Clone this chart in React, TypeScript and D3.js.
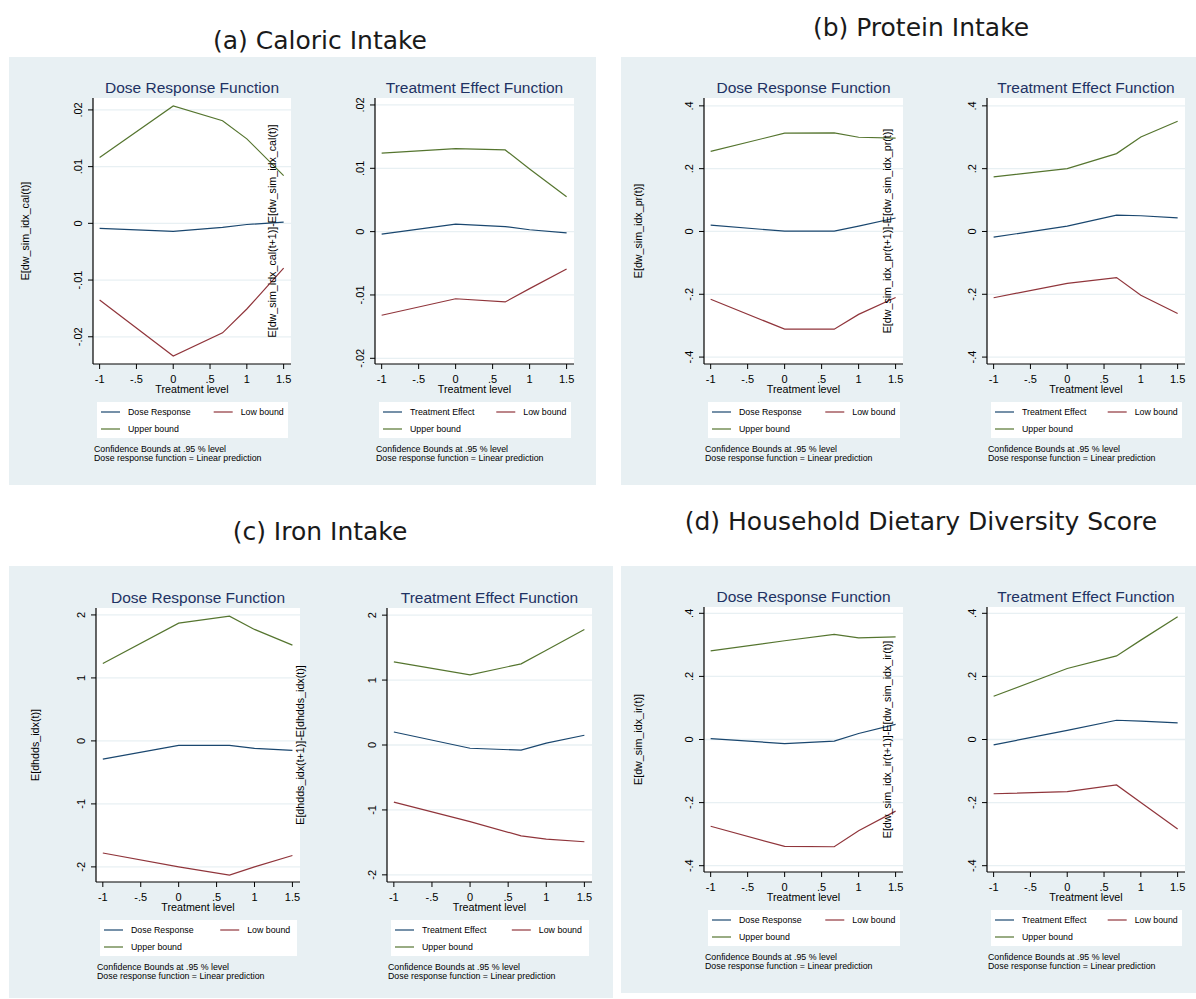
import * as d3 from 'd3';

// treatment levels where the curves are evaluated
const treatmentLevels = [-1, 0, 0.67, 1, 1.5];
const xTicks = [-1, -0.5, 0, 0.5, 1, 1.5];
const xTickLabels = ['-1', '-.5', '0', '.5', '1', '1.5'];

// (a) caloric intake
const calDose = [-0.0009, -0.0014, -0.0007, -0.0002, 0.0002];
const calDoseLow = [-0.0135, -0.0234, -0.0193, -0.0151, -0.0079];
const calDoseUp = [0.0116, 0.0207, 0.0181, 0.0149, 0.0084];
const calEffect = [-0.0004, 0.0012, 0.0008, 0.0003, -0.0002];
const calEffectLow = [-0.0132, -0.0106, -0.0111, -0.009, -0.0059];
const calEffectUp = [0.0124, 0.0131, 0.0129, 0.0099, 0.0055];
const calTicks = [-0.02, -0.01, 0, 0.01, 0.02];
const calTickLabels = ['-.02', '-.01', '0', '.01', '.02'];

// (b) protein intake
const prDose = [0.02, 0.001, 0.001, 0.017, 0.043];
const prDoseLow = [-0.216, -0.311, -0.311, -0.264, -0.21];
const prDoseUp = [0.255, 0.313, 0.314, 0.3, 0.297];
const prEffect = [-0.018, 0.017, 0.052, 0.05, 0.043];
const prEffectLow = [-0.211, -0.165, -0.147, -0.203, -0.261];
const prEffectUp = [0.174, 0.2, 0.248, 0.301, 0.351];

// (c) iron intake (dhdds index)
const hdDose = [-0.29, -0.07, -0.07, -0.12, -0.15];
const hdDoseLow = [-1.78, -2.0, -2.13, -2.0, -1.82];
const hdDoseUp = [1.23, 1.87, 1.98, 1.77, 1.52];
const hdEffect = [0.2, -0.05, -0.08, 0.03, 0.15];
const hdEffectLow = [-0.88, -1.18, -1.4, -1.45, -1.49];
const hdEffectUp = [1.28, 1.08, 1.25, 1.46, 1.78];
const hdTicks = [-2, -1, 0, 1, 2];
const hdTickLabels = ['-2', '-1', '0', '1', '2'];

// (d) household dietary diversity (ir index)
const irDose = [0.003, -0.013, -0.005, 0.019, 0.048];
const irDoseLow = [-0.275, -0.339, -0.34, -0.289, -0.227];
const irDoseUp = [0.281, 0.313, 0.333, 0.322, 0.325];
const irEffect = [-0.017, 0.029, 0.061, 0.058, 0.053];
const irEffectLow = [-0.172, -0.165, -0.144, -0.2, -0.284];
const irEffectUp = [0.137, 0.225, 0.265, 0.315, 0.389];

const pTicks = [-0.4, -0.2, 0, 0.2, 0.4];
const pTickLabels = ['-.4', '-.2', '0', '.2', '.4'];

const NAVY = '#1a476f';
const MAROON = '#90353b';
const GREEN = '#55752f';
const BG = '#e8f0f3';
const SANS = '"Liberation Sans", Arial, sans-serif';

interface Frame { x0: number; x1: number; y0: number; y1: number; titleX: number }

interface SubProps {
	f: Frame;
	yDomain: [number, number];
	yTicks: number[];
	yTickLabels: string[];
	yTitle: string;
	title: string;
	mainLabel: string;
	main: number[];
	low: number[];
	up: number[];
}

const SubPlot = ({ f, yDomain, yTicks, yTickLabels, yTitle, title, mainLabel, main, low, up }: SubProps) => {
	const x = d3.scaleLinear().domain([-1.09, 1.6]).range([f.x0, f.x1]);
	const y = d3.scaleLinear().domain(yDomain).range([f.y1, f.y0]);
	const line = d3
		.line<number>()
		.x((_, i) => x(treatmentLevels[i]))
		.y((d) => y(d));

	// legend box sits under the axis title
	const lx = f.x0 + 4;
	const lw = f.x1 - 3 - lx;
	const ly = f.y1 + 38;
	const col2 = lx + lw * 0.59;
	const entries = [
		{ label: mainLabel, color: NAVY, ex: lx, ey: ly + 10 },
		{ label: 'Low bound', color: MAROON, ex: col2, ey: ly + 10 },
		{ label: 'Upper bound', color: GREEN, ex: lx, ey: ly + 27 },
	];

	return (
		<g fontFamily={SANS}>
			<text x={(f.x0 + f.x1) / 2} y={f.y0 - 5} textAnchor="middle" fontSize={15.5} fill="#1e3263">
				{title}
			</text>
			<rect x={f.x0} y={f.y0} width={f.x1 - f.x0} height={f.y1 - f.y0} fill="#fff" />
			{yTicks.map((t) => (
				<line key={'g' + t} x1={f.x0} x2={f.x1} y1={y(t)} y2={y(t)} stroke={BG} strokeWidth={1.3} />
			))}
			<path d={line(up) || ''} fill="none" stroke={GREEN} strokeWidth={1.2} />
			<path d={line(main) || ''} fill="none" stroke={NAVY} strokeWidth={1.2} />
			<path d={line(low) || ''} fill="none" stroke={MAROON} strokeWidth={1.2} />
			<line x1={f.x0} x2={f.x0} y1={f.y0} y2={f.y1} stroke="#000" strokeWidth={1.2} />
			<line x1={f.x0} x2={f.x1} y1={f.y1} y2={f.y1} stroke="#000" strokeWidth={1.2} />
			{yTicks.map((t, i) => (
				<g key={'y' + t}>
					<line x1={f.x0 - 5} x2={f.x0} y1={y(t)} y2={y(t)} stroke="#000" strokeWidth={1} />
					<text
						transform={`translate(${f.x0 - 11},${y(t)}) rotate(-90)`}
						textAnchor="middle"
						fontSize={11}
						fill="#000"
					>
						{yTickLabels[i]}
					</text>
				</g>
			))}
			{xTicks.map((t, i) => (
				<g key={'x' + t}>
					<line x1={x(t)} x2={x(t)} y1={f.y1} y2={f.y1 + 5} stroke="#000" strokeWidth={1} />
					<text x={x(t)} y={f.y1 + 18.5} textAnchor="middle" fontSize={11} fill="#000">
						{xTickLabels[i]}
					</text>
				</g>
			))}
			<text x={(f.x0 + f.x1) / 2} y={f.y1 + 29} textAnchor="middle" fontSize={10.7} fill="#000">
				Treatment level
			</text>
			<text
				transform={`translate(${f.titleX},${(f.y0 + f.y1) / 2}) rotate(-90)`}
				dy="0.35em"
				textAnchor="middle"
				fontSize={10.7}
				fill="#000"
			>
				{yTitle}
			</text>
			<rect x={lx} y={ly} width={lw} height={36} fill="#fff" />
			{entries.map((e) => (
				<g key={e.label}>
					<line x1={e.ex + 4} x2={e.ex + 23} y1={e.ey} y2={e.ey} stroke={e.color} strokeWidth={1.2} />
					<text x={e.ex + 31} y={e.ey + 3} fontSize={8.8} fill="#000">
						{e.label}
					</text>
				</g>
			))}
			<text x={f.x0 + 1} y={ly + 50} fontSize={8.8} fill="#000">
				Confidence Bounds at .95 % level
			</text>
			<text x={f.x0 + 1} y={ly + 58.5} fontSize={8.8} fill="#000">
				Dose response function = Linear prediction
			</text>
		</g>
	);
};

const panels = [
	{ x: 9, y: 57, w: 587, h: 428, label: '(a) Caloric Intake', lx: 320, ly: 49 },
	{ x: 621, y: 57, w: 575, h: 428, label: '(b) Protein Intake', lx: 921, ly: 36 },
	{ x: 9, y: 566, w: 604, h: 432, label: '(c) Iron Intake', lx: 320, ly: 540 },
	{ x: 621, y: 566, w: 575, h: 427, label: '(d) Household Dietary Diversity Score', lx: 921, ly: 530 },
];

export default function App() {
	return (
		<svg width={1196} height={999} style={{ position: 'absolute', left: 0, top: 0, display: 'block' }}>
			<rect width={1196} height={999} fill="#fff" />
			{panels.map((p) => (
				<g key={p.label}>
					<rect x={p.x} y={p.y} width={p.w} height={p.h} fill={BG} />
					<text
						x={p.lx}
						y={p.ly}
						textAnchor="middle"
						fontSize={25}
						fontFamily='"DejaVu Sans", sans-serif'
						fill="#1a1a1a"
					>
						{p.label}
					</text>
				</g>
			))}

			<SubPlot
				f={{ x0: 93, x1: 291, y0: 98, y1: 364, titleX: 25 }}
				yDomain={[-0.0248, 0.0221]}
				yTicks={calTicks}
				yTickLabels={calTickLabels}
				yTitle="E[dw_sim_idx_cal(t)]"
				title="Dose Response Function"
				mainLabel="Dose Response"
				main={calDose}
				low={calDoseLow}
				up={calDoseUp}
			/>
			<SubPlot
				f={{ x0: 375, x1: 574, y0: 98, y1: 364, titleX: 272 }}
				yDomain={[-0.0209, 0.0211]}
				yTicks={calTicks}
				yTickLabels={calTickLabels}
				yTitle="E[dw_sim_idx_cal(t+1)]-E[dw_sim_idx_cal(t)]"
				title="Treatment Effect Function"
				mainLabel="Treatment Effect"
				main={calEffect}
				low={calEffectLow}
				up={calEffectUp}
			/>
			<SubPlot
				f={{ x0: 704, x1: 903, y0: 98, y1: 364, titleX: 638 }}
				yDomain={[-0.422, 0.425]}
				yTicks={pTicks}
				yTickLabels={pTickLabels}
				yTitle="E[dw_sim_idx_pr(t)]"
				title="Dose Response Function"
				mainLabel="Dose Response"
				main={prDose}
				low={prDoseLow}
				up={prDoseUp}
			/>
			<SubPlot
				f={{ x0: 987, x1: 1185, y0: 98, y1: 364, titleX: 887 }}
				yDomain={[-0.422, 0.425]}
				yTicks={pTicks}
				yTickLabels={pTickLabels}
				yTitle="E[dw_sim_idx_pr(t+1)]-E[dw_sim_idx_pr(t)]"
				title="Treatment Effect Function"
				mainLabel="Treatment Effect"
				main={prEffect}
				low={prEffectLow}
				up={prEffectUp}
			/>
			<SubPlot
				f={{ x0: 96, x1: 300, y0: 608, y1: 882, titleX: 35 }}
				yDomain={[-2.24, 2.11]}
				yTicks={hdTicks}
				yTickLabels={hdTickLabels}
				yTitle="E[dhdds_idx(t)]"
				title="Dose Response Function"
				mainLabel="Dose Response"
				main={hdDose}
				low={hdDoseLow}
				up={hdDoseUp}
			/>
			<SubPlot
				f={{ x0: 387, x1: 592, y0: 608, y1: 882, titleX: 300 }}
				yDomain={[-2.11, 2.11]}
				yTicks={hdTicks}
				yTickLabels={hdTickLabels}
				yTitle="E[dhdds_idx(t+1)]-E[dhdds_idx(t)]"
				title="Treatment Effect Function"
				mainLabel="Treatment Effect"
				main={hdEffect}
				low={hdEffectLow}
				up={hdEffectUp}
			/>
			<SubPlot
				f={{ x0: 704, x1: 903, y0: 607, y1: 872, titleX: 638 }}
				yDomain={[-0.42, 0.42]}
				yTicks={pTicks}
				yTickLabels={pTickLabels}
				yTitle="E[dw_sim_idx_ir(t)]"
				title="Dose Response Function"
				mainLabel="Dose Response"
				main={irDose}
				low={irDoseLow}
				up={irDoseUp}
			/>
			<SubPlot
				f={{ x0: 987, x1: 1185, y0: 607, y1: 872, titleX: 887 }}
				yDomain={[-0.42, 0.42]}
				yTicks={pTicks}
				yTickLabels={pTickLabels}
				yTitle="E[dw_sim_idx_ir(t+1)]-E[dw_sim_idx_ir(t)]"
				title="Treatment Effect Function"
				mainLabel="Treatment Effect"
				main={irEffect}
				low={irEffectLow}
				up={irEffectUp}
			/>
		</svg>
	);
}
